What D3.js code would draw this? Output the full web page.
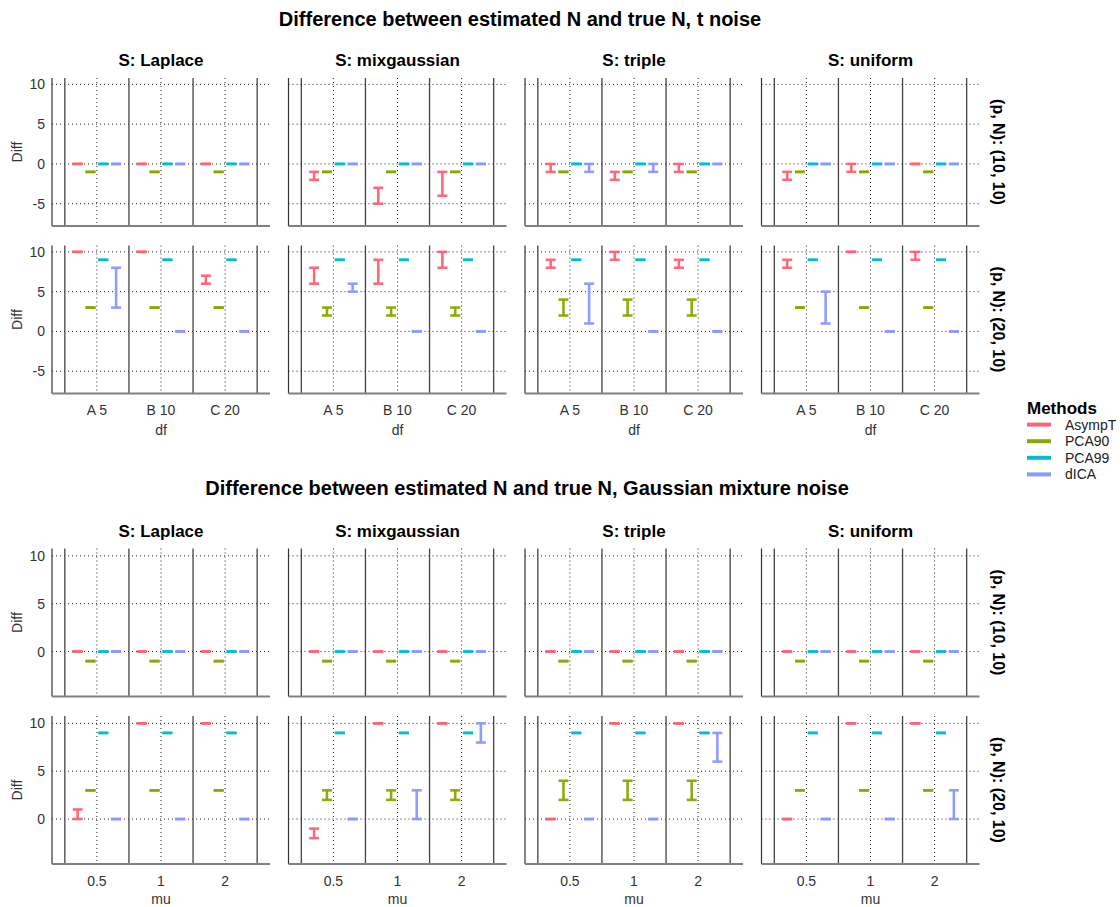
<!DOCTYPE html>
<html>
<head>
<meta charset="utf-8">
<script src="https://cdn.jsdelivr.net/npm/d3@7"></script>
<style>
  body { margin: 0; background: #fff; }
  svg { display: block; font-family: "Liberation Sans", Arial, Helvetica, sans-serif; }
</style>
</head>
<body>
<svg id="chart" width="1120" height="907"></svg>
<script>
// ---- data -------------------------------------------------------------
const methods = ["AsympT", "PCA90", "PCA99", "dICA"];
const methodColors = ["#fb6473", "#86aa00", "#00bdd0", "#8a98ff"];
const sources = ["Laplace", "mixgaussian", "triple", "uniform"];
const settings = ["(10, 10)", "(20, 10)"];
const dfLevels = ["A 5", "B 10", "C 20"];
const muLevels = ["0.5", "1", "2"];
const yTickValues = [-5, 0, 5, 10];

// t noise: range of (estimated N - true N), indexed [setting][source][df level][method]
const tNoiseLow = [
  [
    [[0, -1, 0, 0], [0, -1, 0, 0], [0, -1, 0, 0]],
    [[-2, -1, 0, 0], [-5, -1, 0, 0], [-4, -1, 0, 0]],
    [[-1, -1, 0, -1], [-2, -1, 0, -1], [-1, -1, 0, 0]],
    [[-2, -1, 0, 0], [-1, -1, 0, 0], [0, -1, 0, 0]]
  ],
  [
    [[10, 3, 9, 3], [10, 3, 9, 0], [6, 3, 9, 0]],
    [[6, 2, 9, 5], [6, 2, 9, 0], [8, 2, 9, 0]],
    [[8, 2, 9, 1], [9, 2, 9, 0], [8, 2, 9, 0]],
    [[8, 3, 9, 1], [10, 3, 9, 0], [9, 3, 9, 0]]
  ]
];
const tNoiseHigh = [
  [
    [[0, -1, 0, 0], [0, -1, 0, 0], [0, -1, 0, 0]],
    [[-1, -1, 0, 0], [-3, -1, 0, 0], [-1, -1, 0, 0]],
    [[0, -1, 0, 0], [-1, -1, 0, 0], [0, -1, 0, 0]],
    [[-1, -1, 0, 0], [0, -1, 0, 0], [0, -1, 0, 0]]
  ],
  [
    [[10, 3, 9, 8], [10, 3, 9, 0], [7, 3, 9, 0]],
    [[8, 3, 9, 6], [9, 3, 9, 0], [10, 3, 9, 0]],
    [[9, 4, 9, 6], [10, 4, 9, 0], [9, 4, 9, 0]],
    [[9, 3, 9, 5], [10, 3, 9, 0], [10, 3, 9, 0]]
  ]
];

// Gaussian mixture noise: indexed [setting][source][mu level][method]
const gmNoiseLow = [
  [
    [[0, -1, 0, 0], [0, -1, 0, 0], [0, -1, 0, 0]],
    [[0, -1, 0, 0], [0, -1, 0, 0], [0, -1, 0, 0]],
    [[0, -1, 0, 0], [0, -1, 0, 0], [0, -1, 0, 0]],
    [[0, -1, 0, 0], [0, -1, 0, 0], [0, -1, 0, 0]]
  ],
  [
    [[0, 3, 9, 0], [10, 3, 9, 0], [10, 3, 9, 0]],
    [[-2, 2, 9, 0], [10, 2, 9, 0], [10, 2, 9, 8]],
    [[0, 2, 9, 0], [10, 2, 9, 0], [10, 2, 9, 6]],
    [[0, 3, 9, 0], [10, 3, 9, 0], [10, 3, 9, 0]]
  ]
];
const gmNoiseHigh = [
  [
    [[0, -1, 0, 0], [0, -1, 0, 0], [0, -1, 0, 0]],
    [[0, -1, 0, 0], [0, -1, 0, 0], [0, -1, 0, 0]],
    [[0, -1, 0, 0], [0, -1, 0, 0], [0, -1, 0, 0]],
    [[0, -1, 0, 0], [0, -1, 0, 0], [0, -1, 0, 0]]
  ],
  [
    [[1, 3, 9, 0], [10, 3, 9, 0], [10, 3, 9, 0]],
    [[-1, 3, 9, 0], [10, 3, 9, 3], [10, 3, 9, 10]],
    [[0, 4, 9, 0], [10, 4, 9, 0], [10, 4, 9, 9]],
    [[0, 3, 9, 0], [10, 3, 9, 0], [10, 3, 9, 3]]
  ]
];

// ---- layout -----------------------------------------------------------
const svg = d3.select("#chart");
const panelLefts = [52, 288.5, 525, 761.5];
const panelW = 218;
const rowH = 148;

const figures = [
  {
    title: "Difference between estimated N and true N, t noise",
    titleX: 520, titleY: 19, stripY: 60, rowTops: [78, 245.5],
    levels: dfLevels, xTitle: "df", xLabelY: 410, xTitleY: 430,
    yDomain: [-7.8, 10.8], low: tNoiseLow, high: tNoiseHigh
  },
  {
    title: "Difference between estimated N and true N, Gaussian mixture noise",
    titleX: 527, titleY: 488, stripY: 531, rowTops: [548.5, 716],
    levels: muLevels, xTitle: "mu", xLabelY: 881, xTitleY: 899,
    yDomain: [-4.7, 10.77], low: gmNoiseLow, high: gmNoiseHigh
  }
];

const methodColor = d3.scaleOrdinal().domain(methods).range(methodColors);

figures.forEach(fig => {
  const x = d3.scaleBand().domain(fig.levels).range([0, panelW])
    .paddingInner(0).paddingOuter(0.2);
  const dodge = d3.scaleBand().domain(methods)
    .range([-x.bandwidth() * 0.4, x.bandwidth() * 0.4]);
  const capW = dodge.bandwidth() * 0.78;
  const y = d3.scaleLinear().domain(fig.yDomain).range([rowH, 0]);
  const ticks = yTickValues.filter(v => v >= fig.yDomain[0] && v <= fig.yDomain[1]);

  svg.append("text")
    .attr("x", fig.titleX).attr("y", fig.titleY)
    .attr("text-anchor", "middle").attr("dominant-baseline", "central")
    .attr("font-size", 20).attr("font-weight", "bold").attr("fill", "#000")
    .text(fig.title);

  sources.forEach((src, si) => {
    svg.append("text")
      .attr("x", panelLefts[si] + panelW / 2).attr("y", fig.stripY)
      .attr("text-anchor", "middle").attr("dominant-baseline", "central")
      .attr("font-size", 17).attr("font-weight", "bold").attr("fill", "#000")
      .text("S: " + src);
  });

  settings.forEach((setting, ri) => {
    const top = fig.rowTops[ri];

    // row strip on the right
    svg.append("text")
      .attr("transform", `translate(998,${top + rowH / 2}) rotate(90)`)
      .attr("text-anchor", "middle").attr("dominant-baseline", "central")
      .attr("font-size", 16).attr("font-weight", "bold").attr("fill", "#000")
      .text("(p, N): " + setting);

    // y title
    svg.append("text")
      .attr("transform", `translate(17,${top + rowH / 2}) rotate(-90)`)
      .attr("text-anchor", "middle").attr("dominant-baseline", "central")
      .attr("font-size", 14).attr("fill", "#333")
      .text("Diff");

    sources.forEach((src, si) => {
      const g = svg.append("g").attr("transform", `translate(${panelLefts[si]},${top})`);

      // dotted grid: horizontal at major ticks, vertical at level centres
      g.selectAll("line.hgrid").data(ticks).join("line")
        .attr("class", "hgrid")
        .attr("x1", 0).attr("x2", panelW)
        .attr("y1", d => y(d)).attr("y2", d => y(d))
        .attr("stroke", "#222").attr("stroke-width", 1).attr("stroke-dasharray", "1,3");
      g.selectAll("line.vgrid").data(fig.levels).join("line")
        .attr("class", "vgrid")
        .attr("x1", d => x(d) + x.bandwidth() / 2).attr("x2", d => x(d) + x.bandwidth() / 2)
        .attr("y1", 0).attr("y2", rowH)
        .attr("stroke", "#222").attr("stroke-width", 1).attr("stroke-dasharray", "1,3");

      // solid separators between levels
      const seps = fig.levels.map(l => x(l)).concat([x(fig.levels[fig.levels.length - 1]) + x.bandwidth()]);
      g.selectAll("line.sep").data(seps).join("line")
        .attr("class", "sep")
        .attr("x1", d => d).attr("x2", d => d)
        .attr("y1", 0).attr("y2", rowH)
        .attr("stroke", "#444").attr("stroke-width", 1.3);

      // axes lines
      g.append("line").attr("x1", 0).attr("x2", 0).attr("y1", 0).attr("y2", rowH)
        .attr("stroke", "#333").attr("stroke-width", 1.2);
      g.append("line").attr("x1", 0).attr("x2", panelW).attr("y1", rowH).attr("y2", rowH)
        .attr("stroke", "#808080").attr("stroke-width", 2);

      // y tick labels on the first column
      if (si === 0) {
        g.selectAll("text.ytick").data(ticks).join("text")
          .attr("class", "ytick")
          .attr("x", -7).attr("y", d => y(d))
          .attr("text-anchor", "end").attr("dominant-baseline", "central")
          .attr("font-size", 14).attr("fill", "#333")
          .text(d => d);
      }

      // x labels on the bottom row
      if (ri === settings.length - 1) {
        g.selectAll("text.xtick").data(fig.levels).join("text")
          .attr("class", "xtick")
          .attr("x", d => x(d) + x.bandwidth() / 2).attr("y", fig.xLabelY - top)
          .attr("text-anchor", "middle").attr("dominant-baseline", "central")
          .attr("font-size", 14).attr("fill", "#333")
          .text(d => d);
        g.append("text")
          .attr("x", panelW / 2).attr("y", fig.xTitleY - top)
          .attr("text-anchor", "middle").attr("dominant-baseline", "central")
          .attr("font-size", 14).attr("fill", "#333")
          .text(fig.xTitle);
      }

      // error bars
      const bars = [];
      fig.levels.forEach((lvl, li) => {
        methods.forEach((m, mi) => {
          bars.push({
            level: lvl, method: m,
            lo: fig.low[ri][si][li][mi], hi: fig.high[ri][si][li][mi]
          });
        });
      });
      const eb = g.selectAll("g.eb").data(bars).join("g")
        .attr("class", "eb")
        .attr("transform", d => `translate(${x(d.level) + x.bandwidth() / 2 + dodge(d.method) + dodge.bandwidth() / 2},0)`)
        .attr("stroke", d => methodColor(d.method))
        .attr("stroke-width", 2.6).attr("stroke-opacity", 0.95);
      eb.append("line").attr("x1", -capW / 2).attr("x2", capW / 2)
        .attr("y1", d => y(d.hi)).attr("y2", d => y(d.hi));
      eb.append("line").attr("x1", -capW / 2).attr("x2", capW / 2)
        .attr("y1", d => y(d.lo)).attr("y2", d => y(d.lo));
      eb.append("line").attr("x1", 0).attr("x2", 0)
        .attr("y1", d => y(d.hi)).attr("y2", d => y(d.lo));
    });
  });
});

// ---- legend -----------------------------------------------------------
const legend = svg.append("g").attr("transform", "translate(1027,408)");
legend.append("text")
  .attr("x", 0).attr("y", 0).attr("dominant-baseline", "central")
  .attr("font-size", 17).attr("font-weight", "bold").attr("fill", "#000")
  .text("Methods");
const items = legend.selectAll("g.item").data(methods).join("g")
  .attr("class", "item")
  .attr("transform", (d, i) => `translate(0,${16.6 + i * 16.6})`);
items.append("line").attr("x1", 0).attr("x2", 24).attr("y1", 0).attr("y2", 0)
  .attr("stroke", d => methodColor(d)).attr("stroke-width", 4);
items.append("text")
  .attr("x", 38).attr("y", 0).attr("dominant-baseline", "central")
  .attr("font-size", 14).attr("fill", "#222")
  .text(d => d);
</script>
</body>
</html>
